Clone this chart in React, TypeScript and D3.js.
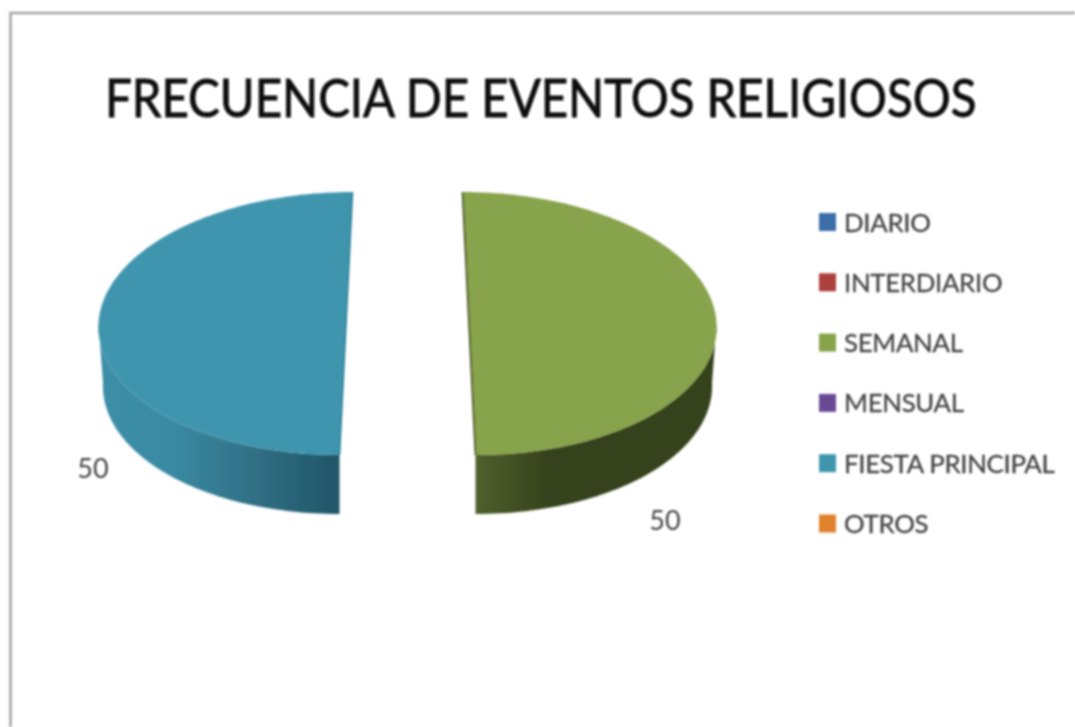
import React from "react";
import * as d3 from "d3";

const categories = ["DIARIO", "INTERDIARIO", "SEMANAL", "MENSUAL", "FIESTA PRINCIPAL", "OTROS"];
const values = [0, 0, 50, 0, 50, 0];
const colors = ["#3b6ea8", "#ab3f3c", "#87a34c", "#6b4a94", "#3f95ae", "#e0812f"];
const title = "FRECUENCIA DE EVENTOS RELIGIOSOS";

const FONT = "Lato, 'Open Sans', sans-serif";
const W = 1075, H = 727;
const RX = 247.5, RY = 131.5, DEPTH = 59, LEAN = 6.5, WALL_INSET = 4.5;
const CY = 323.5;
const centers: Record<string, number> = { SEMANAL: 469, "FIESTA PRINCIPAL": 346 };
const edges: Record<string, [string, string, string]> = {
  SEMANAL: ["#50602c", "#35421b", "#3a451c"],
  "FIESTA PRINCIPAL": ["#3d8ea8", "#1f5567", "#2c7f9a"],
};
const labelPos: Record<string, [number, number]> = { SEMANAL: [665, 530], "FIESTA PRINCIPAL": [93, 478] };

export default function App() {
  const arcs = d3.pie<number>().sort(null).startAngle(0).endAngle(2 * Math.PI)(values);
  const legendY = d3.scalePoint<string>().domain(categories).range([222, 523.5]);

  const pt = (cx: number, side: number, a: number, inset = 0, dy = 0): [number, number] => [
    cx + (RX - inset) * Math.sin(a) - side * LEAN * Math.cos(a),
    CY - RY * Math.cos(a) + dy,
  ];
  const line = d3.line();

  return (
    <svg width={W} height={H} viewBox={`0 0 ${W} ${H}`} style={{ position: "absolute", left: 0, top: 0, background: "#fff" }}>
      <defs>
        <filter id="soft" x="-5%" y="-5%" width="110%" height="110%">
          <feGaussianBlur stdDeviation="0.8" />
        </filter>
        <filter id="softT" x="-5%" y="-30%" width="110%" height="160%">
          <feGaussianBlur stdDeviation="0.8" />
        </filter>
        <linearGradient id="wall-2" x1="0" x2="1" y1="0" y2="0">
          <stop offset="0" stopColor={edges.SEMANAL[0]} />
          <stop offset="0.3" stopColor={edges.SEMANAL[1]} />
          <stop offset="1" stopColor={edges.SEMANAL[1]} />
        </linearGradient>
        <linearGradient id="wall-4" x1="0" x2="1" y1="0" y2="0">
          <stop offset="0" stopColor={edges["FIESTA PRINCIPAL"][0]} />
          <stop offset="0.3" stopColor="#3a8aa3" />
          <stop offset="0.7" stopColor="#2f6b80" />
          <stop offset="1" stopColor={edges["FIESTA PRINCIPAL"][1]} />
        </linearGradient>
      </defs>

      <path
        d={`M${W},13 H10.5 V${H}`}
        fill="none"
        stroke="#a3a3a3"
        strokeWidth={2.5}
        filter="url(#soft)"
      />

      <g filter="url(#soft)">
        {arcs.map((d, i) => {
          if (d.value === 0) return null;
          const name = categories[i];
          const cx = centers[name];
          const side = d.startAngle < Math.PI ? 1 : -1;
          const angles = d3.range(0, 121).map((k) => d.startAngle + ((d.endAngle - d.startAngle) * k) / 120);
          const face = angles.map((a) => pt(cx, side, a));
          const lower = angles.filter((a) => Math.cos(a) <= 0.0001);
          const wall = [
            ...lower.map((a) => pt(cx, side, a)),
            ...lower.slice().reverse().map((a) => pt(cx, side, a, WALL_INSET, DEPTH)),
          ];
          const top = pt(cx, side, side > 0 ? d.startAngle : d.endAngle);
          const bottom = pt(cx, side, side > 0 ? d.endAngle : d.startAngle);
          return (
            <g key={name}>
              <path d={line(wall) + "Z"} fill={`url(#wall-${i})`} />
              <path d={line(face) + "Z"} fill={colors[i]} />
              <path d={line([top, bottom]) ?? ""} stroke={edges[name][2]} strokeWidth={1.6} fill="none" />
            </g>
          );
        })}
      </g>

      <g filter="url(#softT)">
        <text
          transform="translate(105,117) scale(0.903,1)"
          fontFamily={FONT}
          fontSize={52.5}
          fill="#0b0b0b"
          stroke="#0b0b0b"
          strokeWidth={0.9}
        >
          {title}
        </text>

        {arcs.map((d, i) =>
          d.value === 0 ? null : (
            <text key={i} x={labelPos[categories[i]][0]} y={labelPos[categories[i]][1]} textAnchor="middle" fontFamily={FONT} fontSize={27} fill="#444">
              {d.value}
            </text>
          )
        )}

        {categories.map((c, i) => (
          <g key={c}>
            <rect x={819} y={legendY(c)! - 9} width={17} height={18} fill={colors[i]} />
            <text x={844} y={legendY(c)! + 9.5} fontFamily={FONT} fontSize={25.8} fill="#444" stroke="#444" strokeWidth={0.3} style={{ letterSpacing: "-0.3px" }}>
              {c}
            </text>
          </g>
        ))}
      </g>
    </svg>
  );
}
